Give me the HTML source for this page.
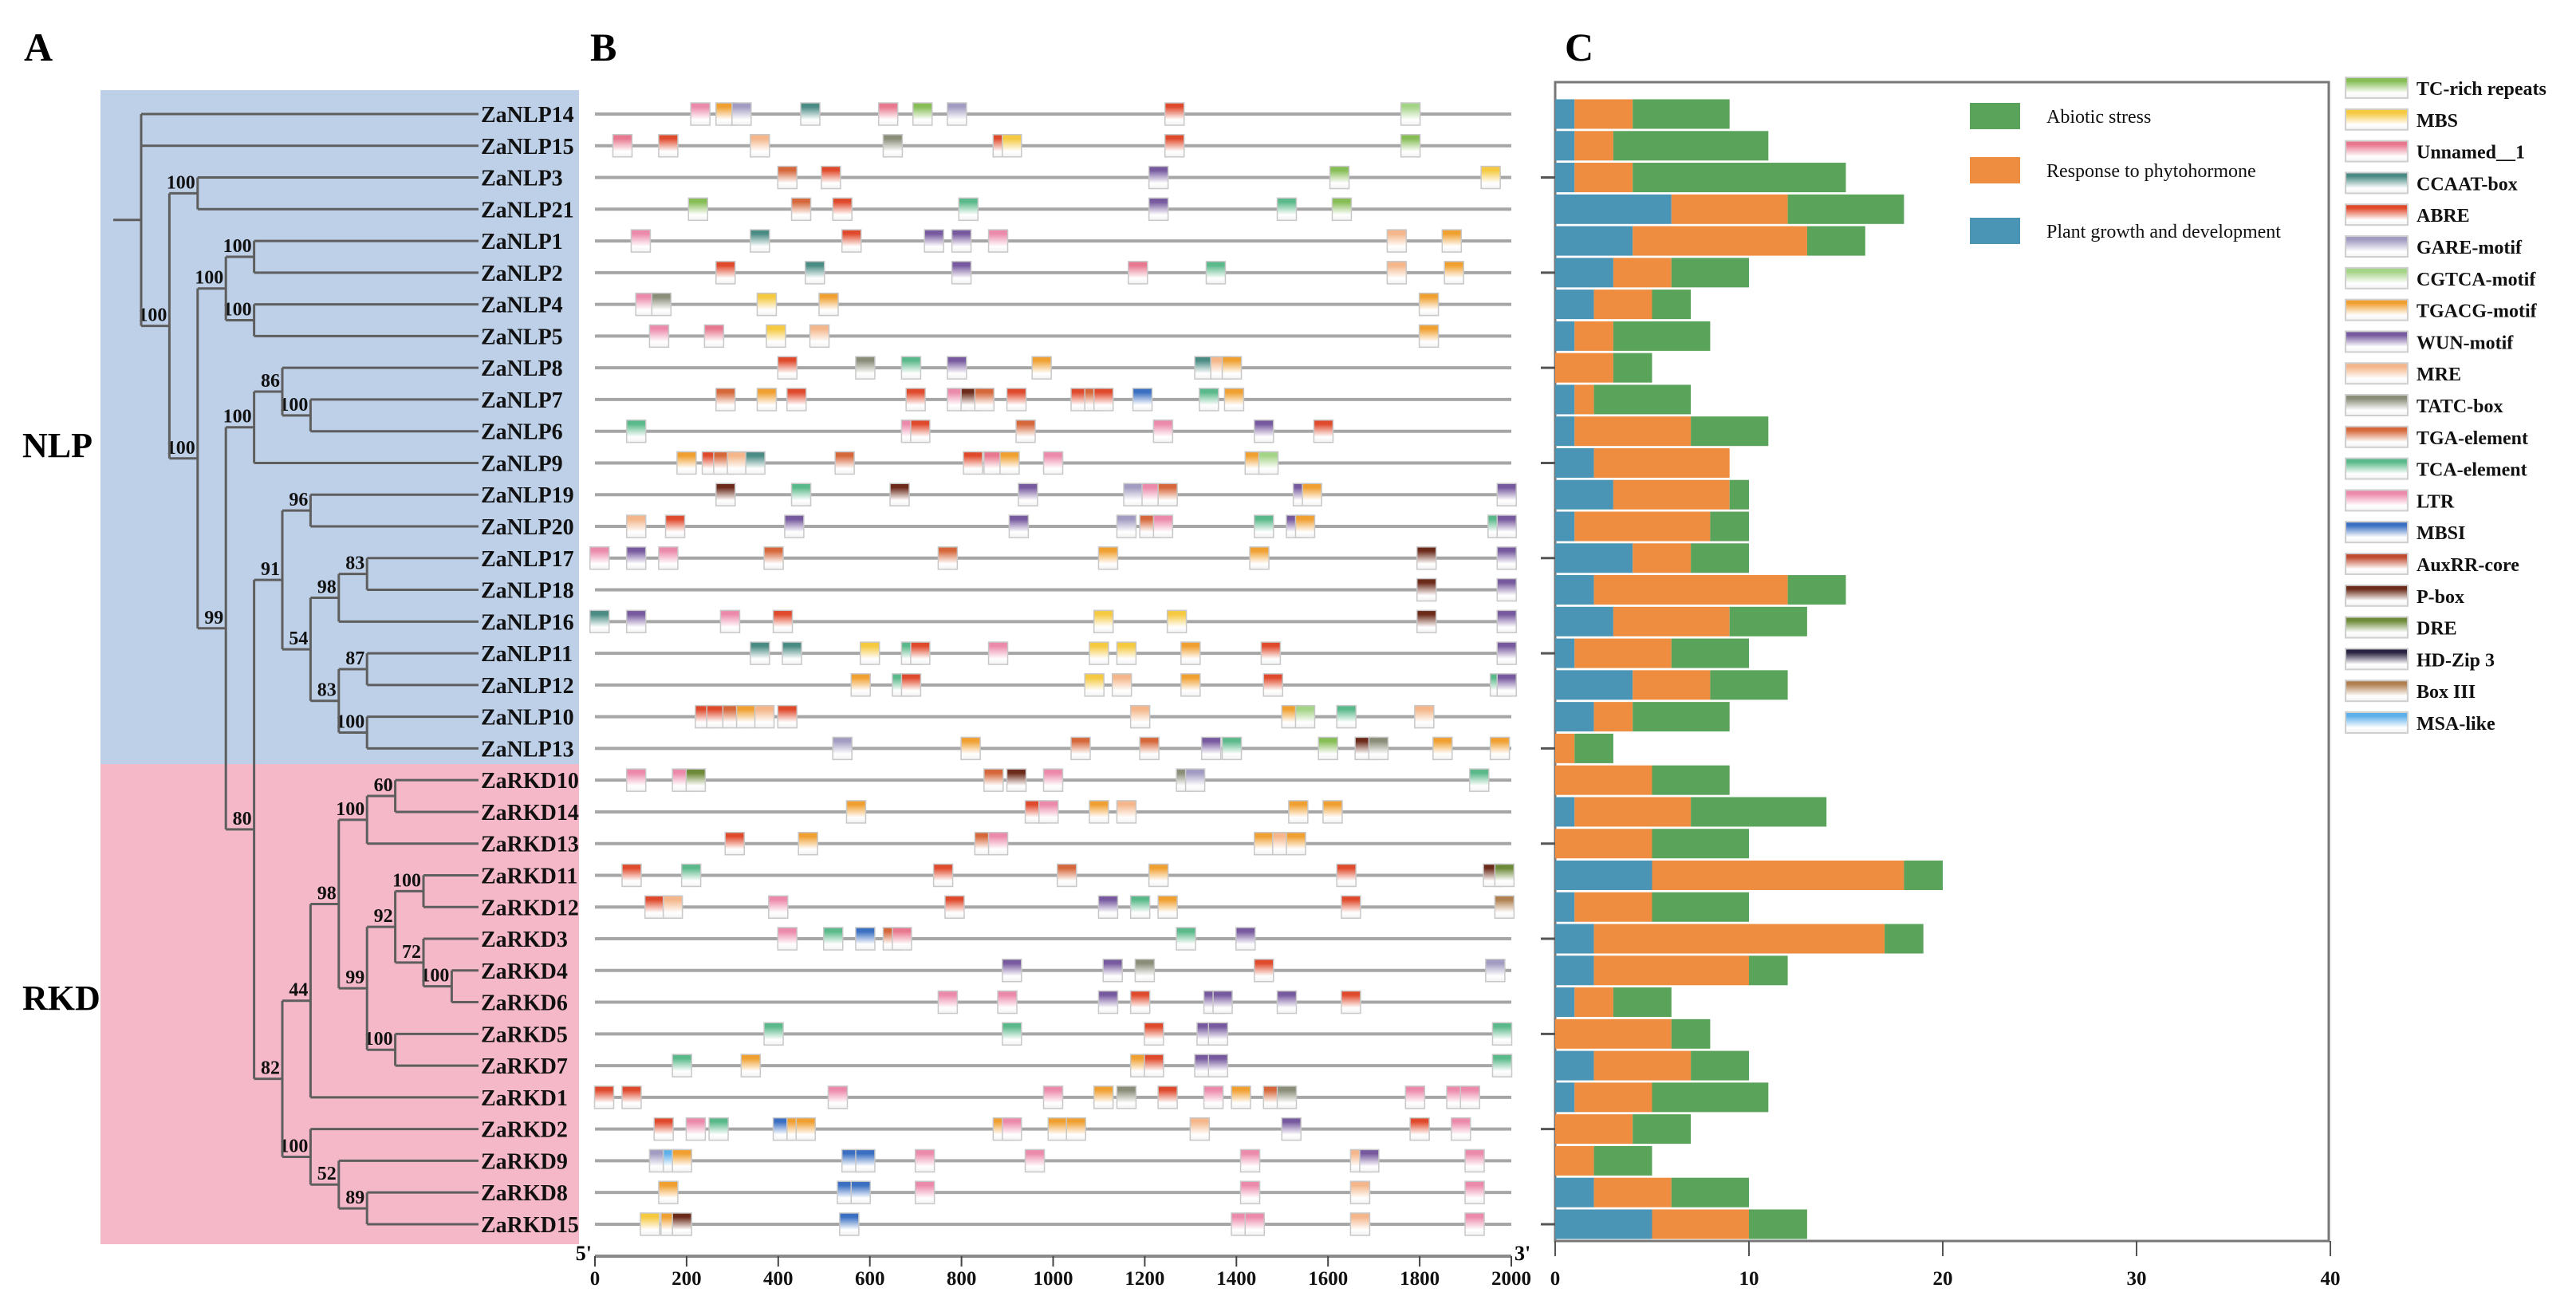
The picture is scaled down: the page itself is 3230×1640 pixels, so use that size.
<!DOCTYPE html>
<html><head><meta charset="utf-8">
<style>
html,body{margin:0;padding:0;background:#fff;}
svg{display:block;font-family:"Liberation Serif",serif;}
</style></head>
<body>
<svg id="fig" width="3230" height="1640" viewBox="0 0 3230 1640" xmlns="http://www.w3.org/2000/svg">
<defs id="defs"></defs>
<rect x="126" y="113" width="600" height="845" fill="#bdd0e8"/>
<rect x="126" y="958" width="600" height="602" fill="#f5b8c9"/>
<text x="30" y="76" font-size="50" font-weight="bold">A</text>
<text x="740" y="76" font-size="50" font-weight="bold">B</text>
<text x="1962" y="76" font-size="50" font-weight="bold">C</text>
<text x="28" y="573" font-size="44" font-weight="bold">NLP</text>
<text x="28" y="1266" font-size="44" font-weight="bold">RKD</text>
<g id="tree"></g>
<g id="motifs"></g>
<g id="bars"></g>
<g id="legend"></g>
</svg>
<script>
const genes = ["ZaNLP14","ZaNLP15","ZaNLP3","ZaNLP21","ZaNLP1","ZaNLP2","ZaNLP4","ZaNLP5","ZaNLP8","ZaNLP7","ZaNLP6","ZaNLP9","ZaNLP19","ZaNLP20","ZaNLP17","ZaNLP18","ZaNLP16","ZaNLP11","ZaNLP12","ZaNLP10","ZaNLP13","ZaRKD10","ZaRKD14","ZaRKD13","ZaRKD11","ZaRKD12","ZaRKD3","ZaRKD4","ZaRKD6","ZaRKD5","ZaRKD7","ZaRKD1","ZaRKD2","ZaRKD9","ZaRKD8","ZaRKD15"];
const growthVals = [1,1,1,6,4,3,2,1,0,1,1,2,3,1,4,2,3,1,4,2,0,0,1,0,5,1,2,2,1,0,2,1,0,0,2,5];
const hormoneVals = [3,2,3,6,9,3,3,2,3,1,6,7,6,7,3,10,6,5,4,2,1,5,6,5,13,4,15,8,2,6,5,4,4,2,4,5];
const abioticVals = [5,8,11,6,3,4,2,5,2,5,4,0,1,2,3,3,4,4,4,5,2,4,7,5,2,5,2,2,3,2,3,6,3,3,4,3];
const xTicksC = [0,10,20,30,40];
const xTicksB = [0,200,400,600,800,1000,1200,1400,1600,1800,2000];
const elementNames = ["TC-rich repeats","MBS","Unnamed__1","CCAAT-box","ABRE","GARE-motif","CGTCA-motif","TGACG-motif","WUN-motif","MRE","TATC-box","TGA-element","TCA-element","LTR","MBSI","AuxRR-core","P-box","DRE","HD-Zip 3","Box III","MSA-like"];
const elementColors = ["#86bd55","#f5c940","#e8788f","#4a8c84","#e04a2c","#a39cc2","#a4d486","#f0a030","#76599e","#f4b68a","#8a8d78","#d6673a","#5ab98a","#ec8aab","#3a6fc2","#c04b30","#6b2a1a","#6d8a38","#2a2240","#b08050","#5eb0ea"];
const motifPos = [
[[230,13],[285,7],[320,5],[470,3],[640,2],[715,0],[790,5],[1265,4],[1780,6]],
[[60,2],[160,4],[360,9],[650,10],[890,4],[910,1],[1265,4],[1780,0]],
[[420,11],[515,4],[1230,8],[1625,0],[1955,1]],
[[225,0],[450,11],[540,4],[815,12],[1230,8],[1510,12],[1630,0]],
[[100,13],[360,3],[560,4],[740,8],[800,8],[880,13],[1750,9],[1870,7]],
[[285,4],[480,3],[800,8],[1185,2],[1355,12],[1750,9],[1875,7]],
[[110,13],[145,10],[375,1],[510,7],[1820,7]],
[[140,13],[260,2],[395,1],[490,9],[1820,7]],
[[420,4],[590,10],[690,12],[790,8],[975,7],[1330,3],[1365,9],[1390,7]],
[[285,11],[375,7],[440,4],[700,4],[790,13],[820,16],[850,11],[920,4],[1060,4],[1090,11],[1110,4],[1195,14],[1340,12],[1395,7]],
[[90,12],[690,13],[710,4],[940,11],[1240,13],[1460,8],[1590,4]],
[[200,7],[255,4],[280,11],[310,9],[350,3],[545,11],[825,4],[870,2],[905,7],[1000,13],[1440,7],[1470,6]],
[[285,16],[450,12],[665,16],[945,8],[1175,5],[1215,13],[1250,11],[1545,8],[1565,7],[1990,8]],
[[90,9],[175,4],[435,8],[925,8],[1160,5],[1210,11],[1240,13],[1460,12],[1530,8],[1550,7],[1970,12],[1990,8]],
[[10,13],[90,8],[160,13],[390,11],[770,11],[1120,7],[1450,7],[1815,16],[1990,8]],
[[1815,16],[1990,8]],
[[10,3],[90,8],[295,13],[410,4],[1110,1],[1270,1],[1815,16],[1990,8]],
[[360,3],[430,3],[600,1],[690,12],[710,4],[880,13],[1100,1],[1160,1],[1300,7],[1475,4],[1990,8]],
[[580,7],[670,12],[690,4],[1090,1],[1150,9],[1300,7],[1480,4],[1975,12],[1990,8]],
[[240,4],[265,4],[300,11],[330,7],[370,9],[420,4],[1190,9],[1520,7],[1550,6],[1640,12],[1810,9]],
[[540,5],[820,7],[1060,11],[1210,11],[1345,8],[1390,12],[1600,0],[1680,16],[1710,10],[1850,7],[1975,7]],
[[90,13],[190,13],[220,17],[870,11],[920,16],[1000,13],[1290,10],[1310,5],[1930,12]],
[[570,7],[960,4],[990,13],[1100,7],[1160,9],[1535,7],[1610,7]],
[[305,4],[465,7],[850,11],[880,13],[1460,7],[1500,9],[1530,7]],
[[80,4],[210,12],[760,4],[1030,11],[1230,7],[1640,4],[1960,16],[1985,17]],
[[130,4],[170,9],[400,13],[785,4],[1120,8],[1190,12],[1250,7],[1650,4],[1985,19]],
[[420,13],[520,12],[590,14],[650,11],[670,2],[1290,12],[1420,8]],
[[910,8],[1130,8],[1200,10],[1460,4],[1965,5]],
[[770,13],[900,13],[1120,8],[1190,4],[1350,8],[1370,8],[1510,8],[1650,4]],
[[390,12],[910,12],[1220,4],[1335,8],[1360,8],[1980,12]],
[[190,12],[340,7],[1190,7],[1220,4],[1330,8],[1360,8],[1980,12]],
[[20,4],[80,4],[530,13],[1000,13],[1110,7],[1160,10],[1250,4],[1350,13],[1410,7],[1480,11],[1510,10],[1790,13],[1880,13],[1910,13]],
[[150,4],[220,13],[270,12],[410,14],[440,7],[460,7],[890,7],[910,13],[1010,7],[1050,7],[1320,9],[1520,8],[1800,4],[1890,13]],
[[140,5],[170,20],[190,7],[560,14],[590,14],[720,13],[960,13],[1430,13],[1670,9],[1690,8],[1920,13]],
[[160,7],[550,14],[580,14],[720,13],[1430,13],[1670,9],[1920,13]],
[[120,1],[165,7],[190,16],[555,14],[1410,13],[1440,13],[1670,9],[1920,13]]
];
const bootLabels = ["100","100","100","100","100","99","100","86","100","80","91","96","54","98","83","83","87","100","82","44","98","100","60","99","92","100","72","100","100","100","52","89"];

const NS="http://www.w3.org/2000/svg";
function mk(tag, attrs, parent){const e=document.createElementNS(NS,tag);for(const k in attrs)e.setAttribute(k,attrs[k]);parent.appendChild(e);return e;}
const rowY = i => 143 + i*39.77;
const bx = v => 746 + v*(1895-746)/2000;
const cx = v => 1950 + v*24.3;

const defs=document.getElementById('defs');
elementColors.forEach((c,i)=>{
  const g=mk('linearGradient',{id:'g'+i,x1:0,y1:0,x2:0,y2:1},defs);
  mk('stop',{offset:'0',  'stop-color':c},g);
  mk('stop',{offset:'0.18','stop-color':c},g);
  mk('stop',{offset:'0.75','stop-color':'#ffffff'},g);
  mk('stop',{offset:'1','stop-color':'#f2f2f2'},g);
});

// TREE
const L = k => 177 + k*35.4;
const tree = ['n',0,null,[ 'ZaNLP14','ZaNLP15',
 ['n',1,0,[ ['n',2,1,['ZaNLP3','ZaNLP21']],
  ['n',2,2,[ ['n',3,3,[ ['n',4,4,['ZaNLP1','ZaNLP2']], ['n',4,6,['ZaNLP4','ZaNLP5']] ]],
   ['n',3,5,[ ['n',4,8,[ ['n',5,7,['ZaNLP8',['n',6,8,['ZaNLP7','ZaNLP6']]]], 'ZaNLP9' ]],
    ['n',4,9,[ ['n',5,10,[ ['n',6,11,['ZaNLP19','ZaNLP20']],
        ['n',6,12,[ ['n',7,13,[ ['n',8,14,['ZaNLP17','ZaNLP18']], 'ZaNLP16']],
                     ['n',7,15,[ ['n',8,16,['ZaNLP11','ZaNLP12']], ['n',8,17,['ZaNLP10','ZaNLP13']] ]] ]] ]],
      ['n',5,18,[ ['n',6,19,[ ['n',7,20,[ ['n',8,21,[ ['n',9,22,['ZaRKD10','ZaRKD14']], 'ZaRKD13']],
            ['n',8,23,[ ['n',9,24,[ ['n',10,25,['ZaRKD11','ZaRKD12']], ['n',10,26,['ZaRKD3',['n',11,27,['ZaRKD4','ZaRKD6']]]] ]],
                        ['n',9,28,['ZaRKD5','ZaRKD7']] ]] ]], 'ZaRKD1' ]],
        ['n',6,29,[ 'ZaRKD2', ['n',7,30,['ZaRKD9',['n',8,31,['ZaRKD8','ZaRKD15']]]] ]] ]] ]] ]] ]] ]] ]];
const tg=document.getElementById('tree');
const lineStyle={stroke:'#5e5e5e','stroke-width':3,fill:'none'};
function draw(node){
  if(typeof node==='string'){return {y:rowY(genes.indexOf(node)), leaf:true};}
  const x=L(node[1]);
  const ch=node[3].map(draw);
  const ys=ch.map(c=>c.y);
  const y=(Math.min(...ys)+Math.max(...ys))/2;
  const v=mk('line',Object.assign({x1:x,y1:Math.min(...ys),x2:x,y2:Math.max(...ys)},lineStyle),tg);
  
  
  node[3].forEach((c,i)=>{
    const x2 = (typeof c==='string') ? 600 : L(c[1]);
    const h=mk('line',Object.assign({x1:x,y1:ch[i].y,x2:x2,y2:ch[i].y},lineStyle),tg);
    
    
  });
  if(node[2]!==null){
    const t=mk('text',{x:x-3,y:y-6,'text-anchor':'end','font-size':24,'font-weight':'bold',fill:'#111'},tg);
    t.textContent=bootLabels[node[2]];
    
    
  }
  return {x,y};
}
const rootInfo=draw(tree);
const stub=mk('line',Object.assign({x1:142,y1:rootInfo.y,x2:177,y2:rootInfo.y},lineStyle),tg);


genes.forEach((g,i)=>{
  const t=mk('text',{x:603,y:rowY(i)+10,'font-size':28,'font-weight':'bold',fill:'#111'},tg);
  t.textContent=g;
  
  
});

// PANEL B
const mg=document.getElementById('motifs');
motifPos.forEach((row,i)=>{
  const y=rowY(i);
  const ln=mk('line',{x1:bx(0),y1:y,x2:bx(2000),y2:y,stroke:'#a6a6a6','stroke-width':4},mg);
  
  
  row.forEach(m=>{
    const r=mk('rect',{x:bx(m[0])-12,y:y-14,width:24,height:28,fill:'url(#g'+m[1]+')',stroke:'#c8c8c8','stroke-width':1.5},mg);
    
    
  });
});
const axB=mk('line',{x1:bx(0),y1:1575,x2:bx(2000),y2:1575,stroke:'#8a8a8a','stroke-width':4},mg);


xTicksB.forEach(v=>{
  const t=mk('line',{x1:bx(v),y1:1575,x2:bx(v),y2:1588,stroke:'#444','stroke-width':2},mg);
  
  
  const l=mk('text',{x:bx(v),y:1611,'text-anchor':'middle','font-size':25,'font-weight':'bold',fill:'#111'},mg);
  l.textContent=v;
  
  
});
const p5=mk('text',{x:bx(0)-4,y:1580,'text-anchor':'end','font-size':26,'font-weight':'bold'},mg);
p5.textContent="5'";


const p3=mk('text',{x:bx(2000)+4,y:1580,'font-size':26,'font-weight':'bold'},mg);
p3.textContent="3'";



// PANEL C
const bg=document.getElementById('bars');
const frame=mk('rect',{x:1950,y:103,width:970,height:1453,fill:'none',stroke:'#777','stroke-width':3},bg);


const colG='#4a94b5', colH='#ee8d40', colA='#5aa35a';
genes.forEach((g,i)=>{
  const y=rowY(i)-18.5;
  const a=growthVals[i], b=a+hormoneVals[i], c=b+abioticVals[i];
  const r1=mk('rect',{x:cx(0),y:y,width:cx(a)-cx(0),height:37,fill:colG},bg);
  
  
  const r2=mk('rect',{x:cx(a),y:y,width:cx(b)-cx(a),height:37,fill:colH},bg);
  
  
  const r3=mk('rect',{x:cx(b),y:y,width:cx(c)-cx(b),height:37,fill:colA},bg);
  
  
  if(i%3===2){
    const tk=mk('line',{x1:1932,y1:rowY(i),x2:1950,y2:rowY(i),stroke:'#555','stroke-width':3},bg);
    
    
  }
});
xTicksC.forEach(v=>{
  const t=mk('line',{x1:cx(v),y1:1556,x2:cx(v),y2:1575,stroke:'#555','stroke-width':2},bg);
  
  
  const l=mk('text',{x:cx(v),y:1611,'text-anchor':'middle','font-size':25,'font-weight':'bold',fill:'#111'},bg);
  l.textContent=v;
  
  
});
const catNames=["Abiotic stress","Response to phytohormone","Plant growth and development"];
const catCols=[colA,colH,colG];
const catY=[129,197,273];
catNames.forEach((n,i)=>{
  const r=mk('rect',{x:2470,y:catY[i],width:63,height:33,fill:catCols[i]},bg);
  
  
  const t=mk('text',{x:2566,y:catY[i]+25,'font-size':24,fill:'#111'},bg);
  t.textContent=n;
  
  
});

// RIGHT LEGEND
const lg=document.getElementById('legend');
elementNames.forEach((n,i)=>{
  const y=110+i*39.8;
  const r=mk('rect',{x:2941,y:y-13,width:78,height:26,fill:'url(#g'+i+')',stroke:'#cfcfcf','stroke-width':2},lg);
  
  
  const t=mk('text',{x:3030,y:y+9,'font-size':24,'font-weight':'bold',fill:'#111'},lg);
  t.textContent=n;
  
  
});
</script>
</body></html>
